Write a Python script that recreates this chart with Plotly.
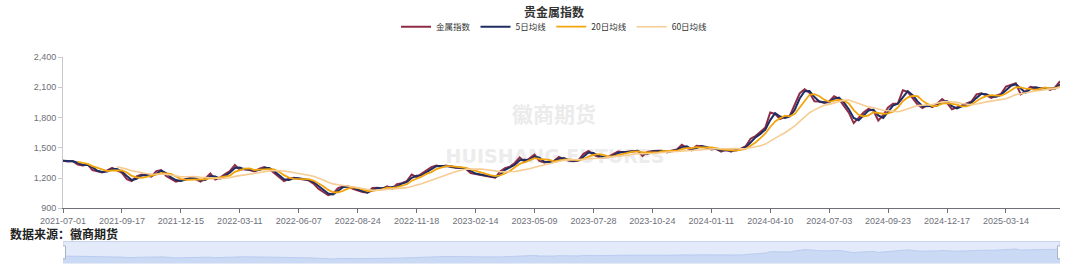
import pandas as pd
import plotly.graph_objects as go

# ---------------- data ----------------
chart_title = "贵金属指数"
source_text = "数据来源：徽商期货"
series_names = ["金属指数", "5日均线", "20日均线", "60日均线"]

tick_labels = [
    "2021-07-01", "2021-09-17", "2021-12-15", "2022-03-11", "2022-06-07",
    "2022-08-24", "2022-11-18", "2023-02-14", "2023-05-09", "2023-07-28",
    "2023-10-24", "2024-01-11", "2024-04-10", "2024-07-03", "2024-09-23",
    "2024-12-17", "2025-03-14",
]
samples_per_tick = 12  # one sample ~ 5 trading days

index_values = [
    1372, 1365, 1368, 1335, 1325, 1335, 1280, 1266, 1256, 1276, 1302, 1276,
    1252, 1190, 1170, 1216, 1236, 1226, 1215, 1269, 1280, 1220, 1195, 1165,
    1177, 1193, 1203, 1190, 1165, 1195, 1245, 1185, 1205, 1240, 1270, 1330,
    1280, 1292, 1282, 1266, 1292, 1309, 1290, 1250, 1205, 1170, 1193, 1203,
    1193, 1187, 1177, 1145, 1095, 1062, 1030, 1045, 1100, 1117, 1117, 1094,
    1078, 1061, 1055, 1101, 1104, 1094, 1117, 1094, 1140, 1150, 1170, 1236,
    1210, 1243, 1276, 1309, 1325, 1315, 1325, 1309, 1302, 1302, 1292, 1250,
    1240, 1232, 1226, 1216, 1203, 1265, 1297, 1313, 1350, 1405, 1360, 1395,
    1432, 1370, 1355, 1362, 1371, 1410, 1385, 1371, 1366, 1380, 1440, 1468,
    1430, 1412, 1405, 1410, 1435, 1462, 1455, 1460, 1470, 1470, 1419, 1458,
    1468, 1468, 1470, 1455, 1474, 1484, 1530, 1500, 1475, 1520, 1516, 1500,
    1484, 1490, 1462, 1484, 1462, 1484, 1490, 1516, 1590, 1616, 1660, 1700,
    1850, 1835, 1785, 1806, 1818, 1936, 2040, 2080, 2045, 1960, 1958, 1945,
    1960, 2010, 1985, 1915, 1848, 1745, 1800, 1850, 1887, 1870, 1770, 1823,
    1900, 1936, 1940, 2070, 2055, 1990, 1930, 1894, 1926, 1903, 1936, 1984,
    1945, 1881, 1900, 1920, 1940, 1960, 2030, 2040, 2020, 1995, 2016, 2035,
    2107, 2120, 2140, 2030, 2060, 2105, 2095, 2087, 2095, 2075, 2100, 2160,
]

y_ticks = [900, 1200, 1500, 1800, 2100, 2400]
ma_windows = [2, 4, 12]  # in samples: ~5, ~20, ~60 trading days

watermark_cn = "徽商期货"
watermark_en = "HUISHANG FUTURES"

colors = ["#8E2B45", "#1F2D63", "#F2A50C", "#F6CC92"]
widths = [2.0, 2.0, 1.8, 1.6]

# ---------------- derived series ----------------
x = list(range(len(index_values)))
s = pd.Series(index_values, dtype=float)
ma5 = s.rolling(ma_windows[0], min_periods=1).mean()
ma20 = s.rolling(ma_windows[1]).mean()
ma60 = s.rolling(ma_windows[2]).mean()
all_series = [s, ma5, ma20, ma60]
last = len(index_values) - 1

# ---------------- figure ----------------
fig = go.Figure()

# watermarks drawn first so that the lines sit on top of them
fig.add_trace(go.Scatter(
    x=[last * 0.4925], y=[1810], mode="text", text=[watermark_cn],
    textfont=dict(size=21, color="#ebebeb", family="Noto Sans CJK SC", weight="bold"),
    showlegend=False, hoverinfo="skip", xaxis="x", yaxis="y",
))
fig.add_trace(go.Scatter(
    x=[last * 0.4935], y=[1400], mode="text", text=[watermark_en],
    textfont=dict(size=19, color="#ececec", family="DejaVu Sans", weight="bold"),
    showlegend=False, hoverinfo="skip", xaxis="x", yaxis="y",
))

for name, ser, c, w in zip(series_names, all_series, colors, widths):
    fig.add_trace(go.Scatter(
        x=x, y=ser.tolist(), name=name, mode="lines",
        line=dict(color=c, width=w), xaxis="x", yaxis="y",
    ))

# data-zoom style overview strip
fig.add_trace(go.Scatter(
    x=x, y=index_values, mode="lines", fill="tozeroy",
    fillcolor="#cad9f4", line=dict(color="#b2c6ee", width=0.8),
    xaxis="x2", yaxis="y2", showlegend=False, hoverinfo="skip",
))

tickvals = [i * samples_per_tick for i in range(len(tick_labels))]
axis_col = "#6E7079"
font_main = "Noto Sans CJK SC, Liberation Sans, sans-serif"

fig.update_layout(
    width=1080, height=278,
    margin=dict(l=63, r=20, t=57, b=10),
    paper_bgcolor="white", plot_bgcolor="white",
    font=dict(family=font_main, color="#333"),
    title=dict(text=chart_title, x=0.513, xanchor="center", y=0.955,
               yanchor="middle", font=dict(size=12, weight="bold", color="#333")),
    legend=dict(orientation="h", x=0.493, xanchor="center", y=1.147,
                yanchor="middle", font=dict(size=8.5, color="#333"),
                itemwidth=30, tracegroupgap=0, bgcolor="rgba(0,0,0,0)"),
    xaxis=dict(domain=[0, 1], range=[0, last], anchor="y",
               tickmode="array", tickvals=tickvals, ticktext=tick_labels,
               showline=True, linecolor=axis_col, linewidth=1,
               ticks="outside", ticklen=4, tickcolor=axis_col,
               tickfont=dict(size=9, color=axis_col, family="Liberation Sans, sans-serif"),
               showgrid=False, zeroline=False),
    yaxis=dict(domain=[0.2654, 1], range=[900, 2400], anchor="x",
               tickmode="array", tickvals=y_ticks, tickformat=",",
               showline=True, linecolor="#c8c9cc", linewidth=1,
               ticks="outside", ticklen=4, tickcolor="#c8c9cc",
               tickfont=dict(size=9, color=axis_col, family="Liberation Sans, sans-serif"),
               showgrid=False, zeroline=False),
    xaxis2=dict(domain=[0, 1], range=[0, last], anchor="y2", visible=False),
    yaxis2=dict(domain=[0, 0.104], range=[600, 2965], anchor="x2", visible=False),
    hovermode="x",
)

# slider background & handles
fig.add_shape(type="rect", xref="x2", yref="y2 domain", x0=0, x1=last, y0=0, y1=1,
              fillcolor="#e3eafa", line=dict(color="#c7d3ee", width=1), layer="below")
for xa in (0, last):
    fig.add_shape(type="rect", xref="x2", yref="y2 domain", xsizemode="pixel",
                  xanchor=xa, x0=-2.5, x1=2.5, y0=0.2, y1=0.8,
                  fillcolor="white", line=dict(color="#a9b1c2", width=1))

# source note
fig.add_annotation(text=source_text, xref="paper", yref="paper", x=-0.0552, y=0.143,
                   xanchor="left", yanchor="middle", showarrow=False,
                   font=dict(size=12, color="#222", weight="bold"))

fig.write_html("out.html")
